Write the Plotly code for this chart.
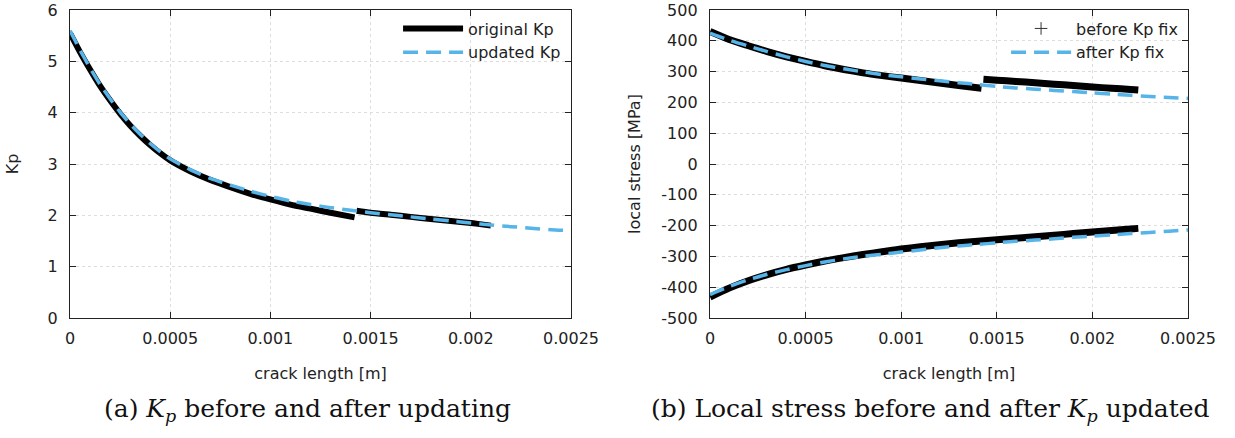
import plotly.graph_objects as go

# ---------------- data: (a) Kp ----------------
x_kp_upd = [0, 0.00005, 0.0001, 0.00015, 0.0002, 0.00025, 0.0003, 0.00035, 0.0004, 0.00045,
            0.0005, 0.0006, 0.0007, 0.0008, 0.0009, 0.0010, 0.0011, 0.0012, 0.0013, 0.0014,
            0.0015, 0.0016, 0.0017, 0.0018, 0.0019, 0.0020, 0.0021, 0.0022, 0.0023, 0.0024,
            0.0025]
kp_upd = [5.60, 5.22, 4.87, 4.55, 4.27, 4.01, 3.78, 3.58, 3.40, 3.24,
          3.10, 2.89, 2.72, 2.59, 2.47, 2.37, 2.28, 2.21, 2.15, 2.10,
          2.05, 2.01, 1.97, 1.93, 1.89, 1.85, 1.81, 1.78, 1.75, 1.72,
          1.70]

x_kp_orig_1 = [0, 0.00005, 0.0001, 0.00015, 0.0002, 0.00025, 0.0003, 0.00035, 0.0004, 0.00045,
               0.0005, 0.0006, 0.0007, 0.0008, 0.0009, 0.0010, 0.0011, 0.0012, 0.0013, 0.00142]
kp_orig_1 = [5.55, 5.18, 4.84, 4.52, 4.24, 3.98, 3.75, 3.55, 3.37, 3.21,
             3.07, 2.86, 2.69, 2.55, 2.42, 2.31, 2.21, 2.13, 2.05, 1.96]
x_kp_orig_2 = [0.00143, 0.0015, 0.0016, 0.0017, 0.0018, 0.0019, 0.0020, 0.0021]
kp_orig_2 = [2.09, 2.05, 2.01, 1.97, 1.93, 1.89, 1.85, 1.80]

# ---------------- data: (b) local stress ----------------
x_after = [0, 0.0001, 0.0002, 0.0003, 0.0004, 0.0005, 0.0006, 0.0007, 0.0008, 0.0009,
           0.0010, 0.0011, 0.0012, 0.0013, 0.0014, 0.0015, 0.0016, 0.0017, 0.0018, 0.0019,
           0.0020, 0.0021, 0.0022, 0.0023, 0.0024, 0.0025]
stress_after_up = [425, 402, 383, 365, 348, 333, 320, 309, 299, 290,
                   283, 276, 270, 264, 258, 252, 247, 243, 239, 235,
                   231, 227, 223, 219, 216, 213]
stress_after_low = [-424, -398, -376, -358, -343, -330, -318, -308, -300, -293,
                    -286, -279, -272, -266, -261, -256, -251, -247, -243, -238,
                    -234, -230, -226, -222, -218, -214]

x_before_up_1 = [0, 0.0001, 0.0002, 0.0003, 0.0004, 0.0005, 0.0006, 0.0007, 0.0008, 0.0009,
                 0.0010, 0.0011, 0.0012, 0.0013, 0.00142]
stress_before_up_1 = [430, 404, 384, 365, 348, 333, 319, 307, 296, 287,
                      279, 271, 263, 255, 246]
x_before_up_2 = [0.00143, 0.0015, 0.0016, 0.0017, 0.0018, 0.0019, 0.0020, 0.0021, 0.0022, 0.00224]
stress_before_up_2 = [275, 272, 268, 264, 259, 255, 250, 246, 242, 240]
x_before_low = [0, 0.0001, 0.0002, 0.0003, 0.0004, 0.0005, 0.0006, 0.0007, 0.0008, 0.0009,
                0.0010, 0.0011, 0.0012, 0.0013, 0.0014, 0.0015, 0.0016, 0.0017, 0.0018, 0.0019,
                0.0020, 0.0021, 0.0022, 0.00224]
stress_before_low = [-432, -403, -379, -359, -342, -328, -315, -304, -294, -285,
                     -276, -269, -262, -256, -251, -246, -241, -236, -231, -226,
                     -221, -216, -211, -209]

x_tickvals = [0, 0.0005, 0.001, 0.0015, 0.002, 0.0025]
x_ticktext = ["0", "0.0005", "0.001", "0.0015", "0.002", "0.0025"]
kp_tickvals = [0, 1, 2, 3, 4, 5, 6]
stress_tickvals = [-500, -400, -300, -200, -100, 0, 100, 200, 300, 400, 500]
stress_ticktext = ["-500", "-400", "-300", "-200", "-100", "0", "100", "200", "300", "400", "500"]

BLUE = "#56B4E9"
DASH = "15px,8px"
FONT = "DejaVu Sans"

fig = go.Figure()

# (a)
fig.add_trace(go.Scatter(
    x=x_kp_orig_1 + [None] + x_kp_orig_2, y=kp_orig_1 + [None] + kp_orig_2,
    mode="lines", name="original Kp", line=dict(color="black", width=6, shape="spline", smoothing=0.6),
    xaxis="x", yaxis="y", legend="legend"))
fig.add_trace(go.Scatter(
    x=x_kp_upd, y=kp_upd, mode="lines", name="updated Kp",
    line=dict(color=BLUE, width=3.5, dash=DASH, shape="spline", smoothing=0.6),
    xaxis="x", yaxis="y", legend="legend"))

# (b)
fig.add_trace(go.Scatter(
    x=x_before_up_1 + [None] + x_before_up_2 + [None] + x_before_low,
    y=stress_before_up_1 + [None] + stress_before_up_2 + [None] + stress_before_low,
    mode="lines", line=dict(color="black", width=7, shape="spline", smoothing=0.6),
    showlegend=False, xaxis="x2", yaxis="y2"))
fig.add_trace(go.Scatter(
    x=[None], y=[None], mode="markers", name="before Kp fix",
    marker=dict(symbol="cross-thin", size=9, color="#333", line=dict(color="#333", width=1)),
    xaxis="x2", yaxis="y2", legend="legend2"))
fig.add_trace(go.Scatter(
    x=x_after + [None] + x_after, y=stress_after_up + [None] + stress_after_low,
    mode="lines", name="after Kp fix",
    line=dict(color=BLUE, width=3.5, dash=DASH, shape="spline", smoothing=0.6),
    xaxis="x2", yaxis="y2", legend="legend2"))

axis_common = dict(
    showline=True, linecolor="#222", linewidth=1.3, mirror="allticks",
    ticks="inside", ticklen=6, tickwidth=1.2, tickcolor="#222",
    showgrid=True, gridcolor="#dddddd", griddash="dot", gridwidth=1,
    zeroline=False, tickfont=dict(family=FONT, size=16, color="#222"),
    automargin=False,
)

fig.update_layout(
    width=1235, height=438,
    margin=dict(l=0, r=0, t=10, b=120),
    paper_bgcolor="white", plot_bgcolor="white",
    font=dict(family=FONT, size=16, color="#222"),
    xaxis=dict(domain=[70 / 1235, 571 / 1235], range=[0, 0.0025], anchor="y",
               tickvals=x_tickvals, ticktext=x_ticktext, ticklabelstandoff=6,
               title=dict(text="crack length [m]", standoff=20, font=dict(size=16)),
               **axis_common),
    yaxis=dict(domain=[0, 1], range=[0, 6], anchor="x", tickvals=kp_tickvals,
               ticklabelstandoff=8,
               title=dict(text="Kp", standoff=24, font=dict(size=16)), **axis_common),
    xaxis2=dict(domain=[710 / 1235, 1188 / 1235], range=[0, 0.0025], anchor="y2",
                tickvals=x_tickvals, ticktext=x_ticktext, ticklabelstandoff=6,
                title=dict(text="crack length [m]", standoff=20, font=dict(size=16)),
                **axis_common),
    yaxis2=dict(domain=[0, 1], range=[-500, 500], anchor="x2", tickvals=stress_tickvals,
                ticktext=stress_ticktext, ticklabelstandoff=8,
                title=dict(text="local stress [MPa]", standoff=16, font=dict(size=16)),
                **axis_common),
    legend=dict(x=571 / 1235 - 0.004, xanchor="right", y=0.995, yanchor="top",
                bgcolor="rgba(0,0,0,0)", font=dict(family=FONT, size=16, color="#222"),
                tracegroupgap=0, itemwidth=60),
    legend2=dict(x=1188 / 1235 - 0.004, xanchor="right", y=0.995, yanchor="top",
                 bgcolor="rgba(0,0,0,0)", font=dict(family=FONT, size=16, color="#222"),
                 tracegroupgap=0, itemwidth=60),
    annotations=[
        dict(text="(a) <i>K</i><sub><i>p</i></sub> before and after updating",
             x=307 / 1235, y=-0.30, xref="paper", yref="paper", showarrow=False,
             xanchor="center", yanchor="middle",
             font=dict(family="DejaVu Serif", size=25, color="#111")),
        dict(text="(b) Local stress before and after <i>K</i><sub><i>p</i></sub> updated",
             x=930 / 1235, y=-0.30, xref="paper", yref="paper", showarrow=False,
             xanchor="center", yanchor="middle",
             font=dict(family="DejaVu Serif", size=25, color="#111")),
    ],
)

fig.write_html("out.html")
